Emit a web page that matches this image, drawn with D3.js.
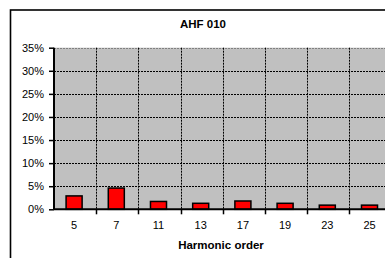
<!DOCTYPE html>
<html>
<head>
<meta charset="utf-8">
<script src="https://cdn.jsdelivr.net/npm/d3@7"></script>
<style>
  body { margin: 0; background: #fff; overflow: hidden; }
  svg { display: block; font-family: Arial, "Liberation Sans", sans-serif; }
</style>
</head>
<body>
<div id="app"></div>
<script>
const harmonics = ["5", "7", "11", "13", "17", "19", "23", "25"];
const distortion = [0.029, 0.046, 0.017, 0.013, 0.018, 0.013, 0.009, 0.009];
const yTicks = [0, 0.05, 0.1, 0.15, 0.2, 0.25, 0.3, 0.35];

const width = 385;
const height = 258;
const plot = { left: 54, top: 47.7, right: 391.6, bottom: 209.3 };

const svg = d3.select("#app").append("svg")
  .attr("width", width)
  .attr("height", height);

// chart frame (runs off the right and bottom edges)
svg.append("rect")
  .attr("x", 10.5).attr("y", 10)
  .attr("width", 400).attr("height", 270)
  .attr("fill", "#fff")
  .attr("stroke", "#000")
  .attr("stroke-width", 1.6);

const x = d3.scaleBand()
  .domain(harmonics)
  .range([plot.left, plot.right]);

const y = d3.scaleLinear()
  .domain([0, 0.35])
  .range([plot.bottom, plot.top]);

svg.append("rect")
  .attr("x", plot.left).attr("y", plot.top)
  .attr("width", plot.right - plot.left)
  .attr("height", plot.bottom - plot.top)
  .attr("fill", "#c0c0c0");

// horizontal gridlines
svg.append("g")
  .selectAll("line")
  .data(yTicks.slice(1))
  .join("line")
  .attr("x1", plot.left).attr("x2", plot.right)
  .attr("y1", d => Math.round(y(d)) + 0.5)
  .attr("y2", d => Math.round(y(d)) + 0.5)
  .attr("stroke", (d, i, n) => i === n.length - 1 ? "#808080" : "#000")
  .attr("stroke-width", 1)
  .attr("stroke-dasharray", "2,1");

// vertical gridlines
svg.append("g")
  .selectAll("line")
  .data(harmonics.slice(1))
  .join("line")
  .attr("x1", d => Math.round(x(d)) + 0.5)
  .attr("x2", d => Math.round(x(d)) + 0.5)
  .attr("y1", plot.top).attr("y2", plot.bottom)
  .attr("stroke", "#000")
  .attr("stroke-dasharray", "2,1");

// bars
const barW = x.bandwidth() * 0.38;
svg.append("g")
  .selectAll("rect")
  .data(harmonics.map((h, i) => ({ h, v: distortion[i] })))
  .join("rect")
  .attr("x", d => x(d.h) + (x.bandwidth() - barW) / 2 - 1)
  .attr("y", d => y(d.v))
  .attr("width", barW)
  .attr("height", d => y(0) - y(d.v))
  .attr("fill", "#ff0000")
  .attr("stroke", "#000")
  .attr("stroke-width", 1.5);

// y axis
const yAxis = svg.append("g")
  .attr("transform", `translate(${plot.left},0)`)
  .call(d3.axisLeft(y).tickValues(yTicks).tickFormat(d3.format(".0%")).tickSize(5).tickPadding(5));
yAxis.select(".domain").attr("stroke-width", 2).attr("d", `M0,${plot.top}V${plot.bottom}`);
yAxis.selectAll(".tick line").attr("stroke-width", 1.5);
yAxis.selectAll("text").attr("font-size", 11).attr("fill", "#000")
  .attr("font-family", "Arial, 'Liberation Sans', sans-serif");

// x axis
const xAxis = svg.append("g")
  .attr("transform", `translate(0,${plot.bottom})`)
  .call(d3.axisBottom(x).tickSize(0).tickPadding(12));
xAxis.select(".domain").attr("stroke-width", 2).attr("d", `M${plot.left},0H${plot.right}`);
xAxis.selectAll("text").attr("font-size", 11).attr("fill", "#000")
  .attr("font-family", "Arial, 'Liberation Sans', sans-serif");
xAxis.selectAll(".tick").attr("transform", d => `translate(${x(d) + x.bandwidth() / 2 - 1},0)`);
svg.append("g")
  .selectAll("line")
  .data(harmonics.slice(1))
  .join("line")
  .attr("x1", d => Math.round(x(d)) + 0.5)
  .attr("x2", d => Math.round(x(d)) + 0.5)
  .attr("y1", plot.bottom).attr("y2", plot.bottom + 5)
  .attr("stroke", "#000")
  .attr("stroke-width", 1.5);

svg.append("text")
  .attr("x", 203).attr("y", 27.5)
  .attr("text-anchor", "middle")
  .attr("font-size", 11.5).attr("font-weight", "bold")
  .text("AHF 010");

svg.append("text")
  .attr("x", 221).attr("y", 248.5)
  .attr("text-anchor", "middle")
  .attr("font-size", 11.5).attr("font-weight", "bold")
  .text("Harmonic order");
</script>
</body>
</html>
